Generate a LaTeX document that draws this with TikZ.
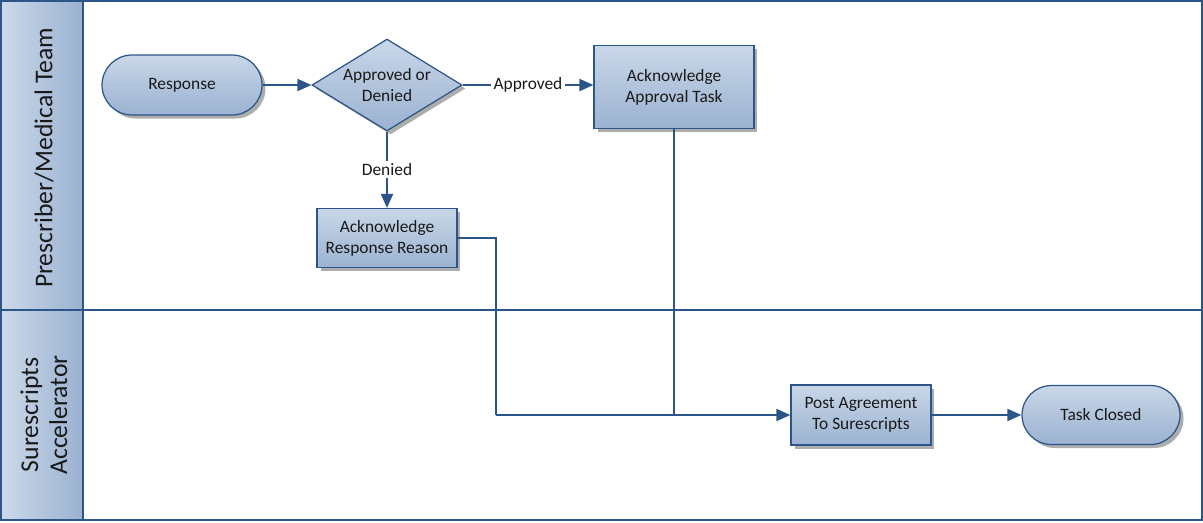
\documentclass[tikz,border=0pt]{standalone}
\usepackage{fontspec}
\setmainfont{Carlito}
\usetikzlibrary{arrows.meta,positioning,shapes.geometric,shapes.misc,shadows}

\definecolor{laneblue}{HTML}{2C5588}
\definecolor{topfill}{HTML}{C9D7E8}
\definecolor{botfill}{HTML}{9BB2D1}
\definecolor{hdrleft}{HTML}{CCDAEA}
\definecolor{hdrright}{HTML}{9AB1D0}

\tikzset{
  shape base/.style={
    draw=laneblue, line width=0.7pt,
    top color=topfill, bottom color=botfill,
    text=black!90, align=center, inner sep=0pt,
    font=\fontsize{9.9}{12}\selectfont,
    drop shadow={shadow xshift=0.07cm, shadow yshift=-0.07cm, fill=black!40, opacity=0.8}
  },
  process/.style={shape base, rectangle},
  terminal/.style={shape base, rounded rectangle},
  decision/.style={shape base, diamond, shape aspect=1.63},
  flow/.style={draw=laneblue, line width=1.1pt, -{Triangle[length=0.28cm,width=0.24cm]}},
  plain/.style={draw=laneblue, line width=0.9pt},
  flowlabel/.style={fill=white, inner sep=1.5pt, text=black!90, font=\fontsize{9.9}{12}\selectfont},
  lane header/.style={draw=laneblue, line width=1.1pt, left color=hdrleft, right color=hdrright},
  lane title/.style={rotate=90, text=black!90, align=center, font=\fontsize{14.6}{16.5}\selectfont}
}

\begin{document}
\begin{tikzpicture}[x=0.02cm, y=-0.02cm]

  \useasboundingbox (0,0) rectangle (1203,522);

  % lanes
  \fill[white] (1,1) rectangle (1202,521);
  \draw[lane header] (1,1) rectangle (83,310);
  \draw[lane header] (1,310) rectangle (83,520);
  \draw[draw=laneblue, line width=1.1pt] (1,1) rectangle (1202,520);
  \draw[draw=laneblue, line width=1.1pt] (1,310) -- (1202,310);
  \node[lane title] (lane1) at (44,158) {Prescriber/Medical Team};
  \node[lane title] (lane2) at (44,415) {Surescripts\\Accelerator};

  % steps
  \node[terminal, minimum width=3.2cm, minimum height=1.2cm] (resp) at (182,85) {Response};
  \node[decision, minimum width=3cm, minimum height=1.84cm] (dec) at (387,85) {Approved or\\Denied};
  \node[process, minimum width=3.2cm, minimum height=1.66cm] (aat) at (674,87) {Acknowledge\\Approval Task};
  \node[process, minimum width=2.8cm, minimum height=1.18cm] (arr) at (387,238) {Acknowledge\\Response Reason};
  \node[process, minimum width=2.8cm, minimum height=1.2cm] (post) at (861,415) {Post Agreement\\To Surescripts};
  \node[terminal, minimum width=3.16cm, minimum height=1.18cm] (closed) at (1101,415) {Task Closed};
  \coordinate (merge) at (496,415);

  % connectors
  \draw[flow] (resp) -- (dec);
  \draw[flow] (dec.east) -- node[flowlabel] {Approved} (aat.west |- dec.east);
  \draw[flow] (dec) -- node[flowlabel] {Denied} (arr);
  \draw[plain] (arr.east) -| (merge);
  \draw[plain] (aat) -- (aat |- merge);
  \draw[flow] (merge) -- (post);
  \draw[flow] (post) -- (closed);

\end{tikzpicture}
\end{document}
